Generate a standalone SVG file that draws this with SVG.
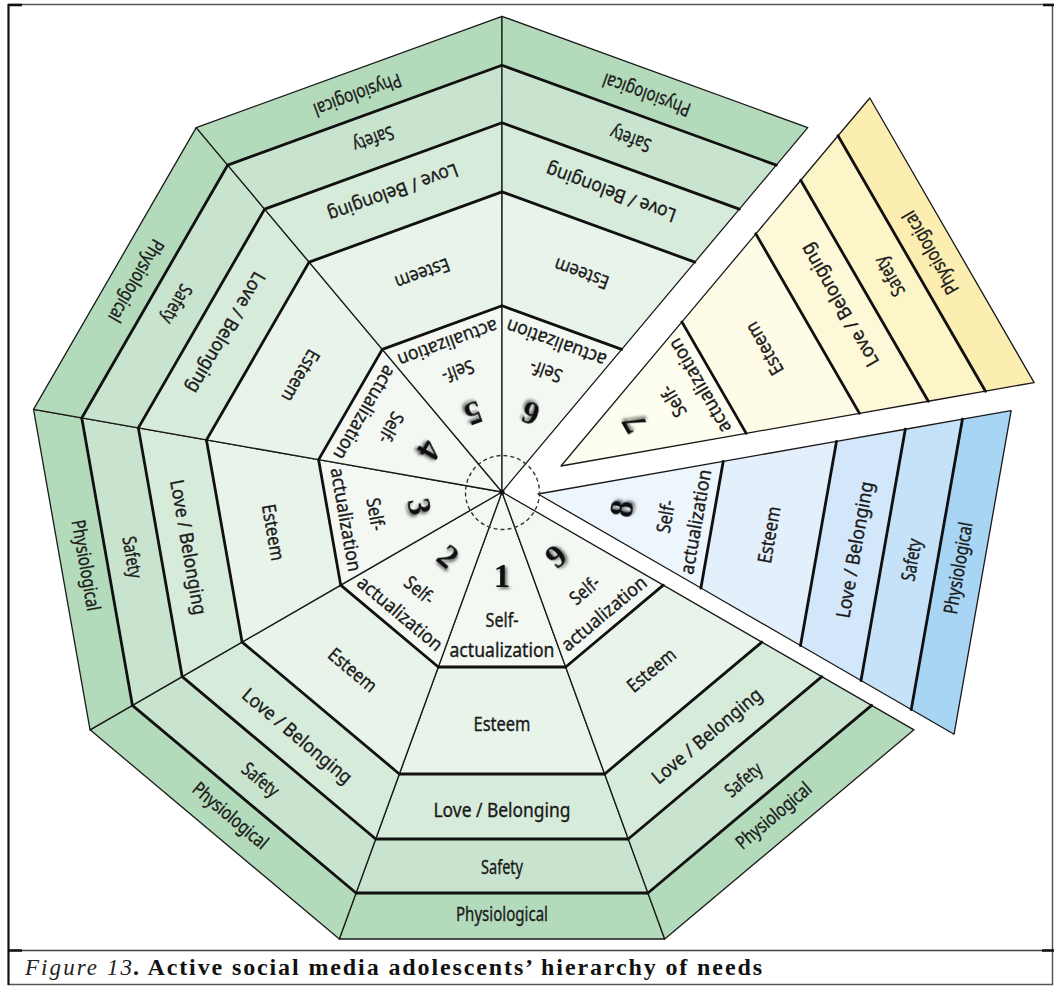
<svg xmlns="http://www.w3.org/2000/svg" width="1055" height="986" viewBox="0 0 1055 986">
<defs>
<style>
.green .sa{fill:#f3f8f3}.green .es{fill:#e8f3e9}.green .lb{fill:#d6ebd9}.green .sf{fill:#c9e4ce}.green .ph{fill:#b3dabb}
.yellow .sa{fill:#fdfdf0}.yellow .es{fill:#fefbe6}.yellow .lb{fill:#fdf8d8}.yellow .sf{fill:#fcf5c8}.yellow .ph{fill:#fbeeb0}
.blue .sa{fill:#eef6fd}.blue .es{fill:#e3f0fc}.blue .lb{fill:#d2e8fa}.blue .sf{fill:#c6e2f8}.blue .ph{fill:#a8d5f4}
polygon{stroke:#1a1a1a;stroke-width:1.3;stroke-linejoin:round}
.thick{fill:none;stroke:#111;stroke-width:2.8;stroke-linecap:round}
.lbl{font-family:"Noto Sans","Liberation Sans",sans-serif;font-size:19px;fill:#1a1a1a;stroke:#1a1a1a;stroke-width:0.35;text-anchor:middle}
.num{font-family:"Liberation Serif",serif;font-weight:bold;font-size:33px;fill:#111;text-anchor:middle;filter:url(#shadow)}
</style>
<filter id="shadow" x="-50%" y="-50%" width="200%" height="200%">
<feDropShadow dx="2" dy="2" stdDeviation="1.4" flood-color="#000" flood-opacity="0.55"/>
</filter>
</defs>
<rect x="0" y="0" width="1055" height="986" fill="#fff"/>
<g id="frame">
<rect x="8.5" y="4.5" width="1044" height="980" fill="none" stroke="#555" stroke-width="1.5"/>
<line x1="8.5" y1="950.5" x2="1052.5" y2="950.5" stroke="#444" stroke-width="1.5"/>
<line x1="8.5" y1="4" x2="8.5" y2="985" stroke="#111" stroke-width="2"/>
<path d="M8,5H22M8,950.5H22M1042,950.5H1054M1043,5H1054" stroke="#111" stroke-width="2.5" fill="none"/>
</g>
<g id="wedge-1" class="green" transform="translate(502,492) rotate(0)">
<polygon class="sa" points="0,0 63.7,175 -63.7,175"/>
<polygon class="es" points="-63.7,175 63.7,175 102.6,282 -102.6,282"/>
<polygon class="lb" points="-102.6,282 102.6,282 126.3,347 -126.3,347"/>
<polygon class="sf" points="-126.3,347 126.3,347 146,401 -146,401"/>
<polygon class="ph" points="-146,401 146,401 162.7,447 -162.7,447"/>
<path class="thick" d="M-63.7,175H63.7M-102.6,282H102.6M-126.3,347H126.3M-146,401H146"/>
<text class="num" y="95">1</text>
<text class="lbl" y="135" textLength="33" lengthAdjust="spacingAndGlyphs">Self-</text>
<text class="lbl" y="165" textLength="105" lengthAdjust="spacingAndGlyphs">actualization</text>
<text class="lbl" y="239" textLength="57" lengthAdjust="spacingAndGlyphs">Esteem</text>
<text class="lbl" y="325" textLength="137" lengthAdjust="spacingAndGlyphs">Love / Belonging</text>
<text class="lbl" y="382" textLength="42" lengthAdjust="spacingAndGlyphs">Safety</text>
<text class="lbl" y="429" textLength="92" lengthAdjust="spacingAndGlyphs">Physiological</text>
</g>
<g id="wedge-2" class="green" transform="translate(502,492) rotate(40)">
<polygon class="sa" points="0,0 63.7,175 -63.7,175"/>
<polygon class="es" points="-63.7,175 63.7,175 102.6,282 -102.6,282"/>
<polygon class="lb" points="-102.6,282 102.6,282 126.3,347 -126.3,347"/>
<polygon class="sf" points="-126.3,347 126.3,347 146,401 -146,401"/>
<polygon class="ph" points="-146,401 146,401 162.7,447 -162.7,447"/>
<path class="thick" d="M-63.7,175H63.7M-102.6,282H102.6M-126.3,347H126.3M-146,401H146"/>
<text class="num" y="95">2</text>
<text class="lbl" y="135" textLength="33" lengthAdjust="spacingAndGlyphs">Self-</text>
<text class="lbl" y="165" textLength="105" lengthAdjust="spacingAndGlyphs">actualization</text>
<text class="lbl" y="239" textLength="57" lengthAdjust="spacingAndGlyphs">Esteem</text>
<text class="lbl" y="325" textLength="137" lengthAdjust="spacingAndGlyphs">Love / Belonging</text>
<text class="lbl" y="382" textLength="42" lengthAdjust="spacingAndGlyphs">Safety</text>
<text class="lbl" y="429" textLength="92" lengthAdjust="spacingAndGlyphs">Physiological</text>
</g>
<g id="wedge-3" class="green" transform="translate(502,492) rotate(80)">
<polygon class="sa" points="0,0 63.7,175 -63.7,175"/>
<polygon class="es" points="-63.7,175 63.7,175 102.6,282 -102.6,282"/>
<polygon class="lb" points="-102.6,282 102.6,282 126.3,347 -126.3,347"/>
<polygon class="sf" points="-126.3,347 126.3,347 146,401 -146,401"/>
<polygon class="ph" points="-146,401 146,401 162.7,447 -162.7,447"/>
<path class="thick" d="M-63.7,175H63.7M-102.6,282H102.6M-126.3,347H126.3M-146,401H146"/>
<text class="num" y="95">3</text>
<text class="lbl" y="135" textLength="33" lengthAdjust="spacingAndGlyphs">Self-</text>
<text class="lbl" y="165" textLength="105" lengthAdjust="spacingAndGlyphs">actualization</text>
<text class="lbl" y="239" textLength="57" lengthAdjust="spacingAndGlyphs">Esteem</text>
<text class="lbl" y="325" textLength="137" lengthAdjust="spacingAndGlyphs">Love / Belonging</text>
<text class="lbl" y="382" textLength="42" lengthAdjust="spacingAndGlyphs">Safety</text>
<text class="lbl" y="429" textLength="92" lengthAdjust="spacingAndGlyphs">Physiological</text>
</g>
<g id="wedge-4" class="green" transform="translate(502,492) rotate(120)">
<polygon class="sa" points="0,0 63.7,175 -63.7,175"/>
<polygon class="es" points="-63.7,175 63.7,175 102.6,282 -102.6,282"/>
<polygon class="lb" points="-102.6,282 102.6,282 126.3,347 -126.3,347"/>
<polygon class="sf" points="-126.3,347 126.3,347 146,401 -146,401"/>
<polygon class="ph" points="-146,401 146,401 162.7,447 -162.7,447"/>
<path class="thick" d="M-63.7,175H63.7M-102.6,282H102.6M-126.3,347H126.3M-146,401H146"/>
<text class="num" y="95">4</text>
<text class="lbl" y="135" textLength="33" lengthAdjust="spacingAndGlyphs">Self-</text>
<text class="lbl" y="165" textLength="105" lengthAdjust="spacingAndGlyphs">actualization</text>
<text class="lbl" y="239" textLength="57" lengthAdjust="spacingAndGlyphs">Esteem</text>
<text class="lbl" y="325" textLength="137" lengthAdjust="spacingAndGlyphs">Love / Belonging</text>
<text class="lbl" y="382" textLength="42" lengthAdjust="spacingAndGlyphs">Safety</text>
<text class="lbl" y="429" textLength="92" lengthAdjust="spacingAndGlyphs">Physiological</text>
</g>
<g id="wedge-5" class="green" transform="translate(502,492) rotate(160)">
<polygon class="sa" points="0,0 63.7,175 -63.7,175"/>
<polygon class="es" points="-63.7,175 63.7,175 102.6,282 -102.6,282"/>
<polygon class="lb" points="-102.6,282 102.6,282 126.3,347 -126.3,347"/>
<polygon class="sf" points="-126.3,347 126.3,347 146,401 -146,401"/>
<polygon class="ph" points="-146,401 146,401 162.7,447 -162.7,447"/>
<path class="thick" d="M-63.7,175H63.7M-102.6,282H102.6M-126.3,347H126.3M-146,401H146"/>
<text class="num" y="95">5</text>
<text class="lbl" y="135" textLength="33" lengthAdjust="spacingAndGlyphs">Self-</text>
<text class="lbl" y="165" textLength="105" lengthAdjust="spacingAndGlyphs">actualization</text>
<text class="lbl" y="239" textLength="57" lengthAdjust="spacingAndGlyphs">Esteem</text>
<text class="lbl" y="325" textLength="137" lengthAdjust="spacingAndGlyphs">Love / Belonging</text>
<text class="lbl" y="382" textLength="42" lengthAdjust="spacingAndGlyphs">Safety</text>
<text class="lbl" y="429" textLength="92" lengthAdjust="spacingAndGlyphs">Physiological</text>
</g>
<g id="wedge-6" class="green" transform="translate(502,492) rotate(200)">
<polygon class="sa" points="0,0 63.7,175 -63.7,175"/>
<polygon class="es" points="-63.7,175 63.7,175 102.6,282 -102.6,282"/>
<polygon class="lb" points="-102.6,282 102.6,282 126.3,347 -126.3,347"/>
<polygon class="sf" points="-126.3,347 126.3,347 146,401 -146,401"/>
<polygon class="ph" points="-146,401 146,401 162.7,447 -162.7,447"/>
<path class="thick" d="M-63.7,175H63.7M-102.6,282H102.6M-126.3,347H126.3M-146,401H146"/>
<text class="num" y="95">6</text>
<text class="lbl" y="135" textLength="33" lengthAdjust="spacingAndGlyphs">Self-</text>
<text class="lbl" y="165" textLength="105" lengthAdjust="spacingAndGlyphs">actualization</text>
<text class="lbl" y="239" textLength="57" lengthAdjust="spacingAndGlyphs">Esteem</text>
<text class="lbl" y="325" textLength="137" lengthAdjust="spacingAndGlyphs">Love / Belonging</text>
<text class="lbl" y="382" textLength="42" lengthAdjust="spacingAndGlyphs">Safety</text>
<text class="lbl" y="429" textLength="92" lengthAdjust="spacingAndGlyphs">Physiological</text>
</g>
<g id="wedge-7" class="yellow" transform="translate(561,466) rotate(240) scale(1.01)">
<polygon class="sa" points="0,0 63.7,175 -63.7,175"/>
<polygon class="es" points="-63.7,175 63.7,175 102.6,282 -102.6,282"/>
<polygon class="lb" points="-102.6,282 102.6,282 126.3,347 -126.3,347"/>
<polygon class="sf" points="-126.3,347 126.3,347 146,401 -146,401"/>
<polygon class="ph" points="-146,401 146,401 162.7,447 -162.7,447"/>
<path class="thick" d="M-63.7,175H63.7M-102.6,282H102.6M-126.3,347H126.3M-146,401H146"/>
<text class="num" y="95">7</text>
<text class="lbl" y="135" textLength="33" lengthAdjust="spacingAndGlyphs">Self-</text>
<text class="lbl" y="165" textLength="105" lengthAdjust="spacingAndGlyphs">actualization</text>
<text class="lbl" y="239" textLength="57" lengthAdjust="spacingAndGlyphs">Esteem</text>
<text class="lbl" y="325" textLength="137" lengthAdjust="spacingAndGlyphs">Love / Belonging</text>
<text class="lbl" y="382" textLength="42" lengthAdjust="spacingAndGlyphs">Safety</text>
<text class="lbl" y="429" textLength="92" lengthAdjust="spacingAndGlyphs">Physiological</text>
</g>
<g id="wedge-8" class="blue" transform="translate(538,494) rotate(-80) scale(1.01)">
<polygon class="sa" points="0,0 63.7,175 -63.7,175"/>
<polygon class="es" points="-63.7,175 63.7,175 102.6,282 -102.6,282"/>
<polygon class="lb" points="-102.6,282 102.6,282 126.3,347 -126.3,347"/>
<polygon class="sf" points="-126.3,347 126.3,347 146,401 -146,401"/>
<polygon class="ph" points="-146,401 146,401 162.7,447 -162.7,447"/>
<path class="thick" d="M-63.7,175H63.7M-102.6,282H102.6M-126.3,347H126.3M-146,401H146"/>
<text class="num" y="95">8</text>
<text class="lbl" y="135" textLength="33" lengthAdjust="spacingAndGlyphs">Self-</text>
<text class="lbl" y="165" textLength="105" lengthAdjust="spacingAndGlyphs">actualization</text>
<text class="lbl" y="239" textLength="57" lengthAdjust="spacingAndGlyphs">Esteem</text>
<text class="lbl" y="325" textLength="137" lengthAdjust="spacingAndGlyphs">Love / Belonging</text>
<text class="lbl" y="382" textLength="42" lengthAdjust="spacingAndGlyphs">Safety</text>
<text class="lbl" y="429" textLength="92" lengthAdjust="spacingAndGlyphs">Physiological</text>
</g>
<g id="wedge-9" class="green" transform="translate(502,492) rotate(-40)">
<polygon class="sa" points="0,0 63.7,175 -63.7,175"/>
<polygon class="es" points="-63.7,175 63.7,175 102.6,282 -102.6,282"/>
<polygon class="lb" points="-102.6,282 102.6,282 126.3,347 -126.3,347"/>
<polygon class="sf" points="-126.3,347 126.3,347 146,401 -146,401"/>
<polygon class="ph" points="-146,401 146,401 162.7,447 -162.7,447"/>
<path class="thick" d="M-63.7,175H63.7M-102.6,282H102.6M-126.3,347H126.3M-146,401H146"/>
<text class="num" y="95">9</text>
<text class="lbl" y="135" textLength="33" lengthAdjust="spacingAndGlyphs">Self-</text>
<text class="lbl" y="165" textLength="105" lengthAdjust="spacingAndGlyphs">actualization</text>
<text class="lbl" y="239" textLength="57" lengthAdjust="spacingAndGlyphs">Esteem</text>
<text class="lbl" y="325" textLength="137" lengthAdjust="spacingAndGlyphs">Love / Belonging</text>
<text class="lbl" y="382" textLength="42" lengthAdjust="spacingAndGlyphs">Safety</text>
<text class="lbl" y="429" textLength="92" lengthAdjust="spacingAndGlyphs">Physiological</text>
</g>
<g id="center">
<circle cx="502.5" cy="492.5" r="37" fill="none" stroke="#333" stroke-width="1.4" stroke-dasharray="4 3"/>
<circle cx="502" cy="492" r="2.6" fill="#111"/>
</g>
<g id="caption">
<text x="25" y="975" textLength="107" lengthAdjust="spacing" font-family="Liberation Serif, serif" font-style="italic" font-size="23" fill="#222">Figure 13</text>
<text x="133" y="975" textLength="629" lengthAdjust="spacing" font-family="Liberation Serif, serif" font-weight="bold" font-size="24" fill="#111">. Active social media adolescents’ hierarchy of needs</text>
</g>
</svg>
